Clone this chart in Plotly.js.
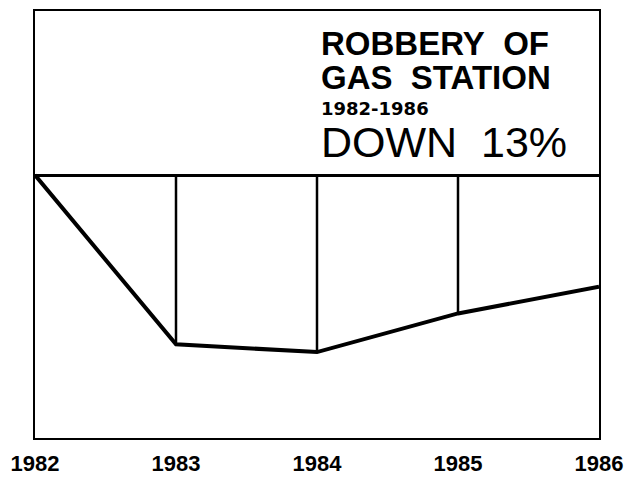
<!DOCTYPE html>
<html>
<head>
<meta charset="utf-8">
<script src="https://cdn.plot.ly/plotly-3.0.1.min.js"></script>
<style>html,body{margin:0;padding:0;background:#fff;}#chart{width:629px;height:478px;}</style>
</head>
<body>
<div id="chart"></div>
<script>
// Data: percent change in gas station robbery relative to 1982
const years = [1982, 1983, 1984, 1985, 1986];
const changePct = [0, -19.7, -20.6, -16.1, -13.0];
const tickLabels = ['1982', '1983', '1984', '1985', '1986'];
const titleLines = ['ROBBERY\u00a0\u00a0OF', 'GAS\u00a0\u00a0STATION', '1982-1986', 'DOWN\u00a0\u00a013%'];

// drop lines from zero to the value at interior years
const dropX = [], dropY = [];
for (let i = 1; i < years.length - 1; i++) {
  dropX.push(years[i], years[i], null);
  dropY.push(0, changePct[i], null);
}

const traces = [
  {x: dropX, y: dropY, mode: 'lines', line: {color: '#000', width: 2.5}, hoverinfo: 'skip'},
  {x: years, y: changePct, mode: 'lines', line: {color: '#000', width: 4}}
];

const narrowBold = 'Liberation Sans Narrow, Arial Narrow, Liberation Sans, Arial, sans-serif';
const layout = {
  width: 629, height: 478,
  margin: {l: 35, r: 30, t: 11, b: 40},
  showlegend: false,
  paper_bgcolor: '#fff', plot_bgcolor: '#fff',
  xaxis: {
    range: [1982, 1986], tickvals: years, ticktext: tickLabels,
    showgrid: false, zeroline: false, showline: true, mirror: true,
    linecolor: '#000', linewidth: 2, ticks: '', ticklabelstandoff: 5,
    tickfont: {family: 'Liberation Sans, Arial, sans-serif', size: 22, color: '#000', weight: 'bold'}
  },
  yaxis: {
    range: [-30.6, 19.1], showticklabels: false, showgrid: false,
    zeroline: true, zerolinecolor: '#000', zerolinewidth: 3,
    showline: true, mirror: true, linecolor: '#000', linewidth: 2, ticks: ''
  },
  annotations: [
    {text: titleLines[0], xref: 'paper', yref: 'paper', x: 0.504, y: 0.924, xanchor: 'left', yanchor: 'middle', showarrow: false,
     font: {family: narrowBold, size: 33, color: '#000', weight: 'bold'}},
    {text: titleLines[1], xref: 'paper', yref: 'paper', x: 0.504, y: 0.845, xanchor: 'left', yanchor: 'middle', showarrow: false,
     font: {family: narrowBold, size: 33, color: '#000', weight: 'bold'}},
    {text: titleLines[2], xref: 'paper', yref: 'paper', x: 0.504, y: 0.772, xanchor: 'left', yanchor: 'middle', showarrow: false,
     font: {family: 'DejaVu Sans, Liberation Sans, Arial, sans-serif', size: 18, color: '#000', weight: 'bold'}},
    {text: titleLines[3], xref: 'paper', yref: 'paper', x: 0.504, y: 0.693, xanchor: 'left', yanchor: 'middle', showarrow: false,
     font: {family: 'Liberation Sans, Arial, sans-serif', size: 43, color: '#000'}}
  ]
};

Plotly.newPlot('chart', traces, layout, {staticPlot: true, displayModeBar: false});
</script>
</body>
</html>
